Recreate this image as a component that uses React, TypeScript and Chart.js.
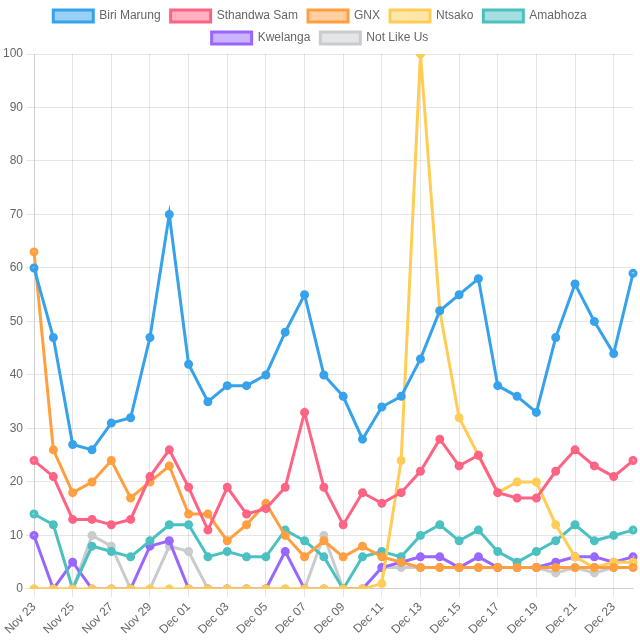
import React, { useEffect, useRef } from "react";
import { Chart, registerables } from "chart.js";

Chart.register(...registerables);

const labels = [
  "Nov 23", "Nov 24", "Nov 25", "Nov 26", "Nov 27", "Nov 28", "Nov 29", "Nov 30",
  "Dec 01", "Dec 02", "Dec 03", "Dec 04", "Dec 05", "Dec 06", "Dec 07", "Dec 08",
  "Dec 09", "Dec 10", "Dec 11", "Dec 12", "Dec 13", "Dec 14", "Dec 15", "Dec 16",
  "Dec 17", "Dec 18", "Dec 19", "Dec 20", "Dec 21", "Dec 22", "Dec 23", "Dec 24",
];

const biriMarung = [60, 47, 27, 26, 31, 32, 47, 70, 42, 35, 38, 38, 40, 48, 55, 40, 36, 28, 34, 36, 43, 52, 55, 58, 38, 36, 33, 47, 57, 50, 44, 59];
const sthandwaSam = [24, 21, 13, 13, 12, 13, 21, 26, 19, 11, 19, 14, 15, 19, 33, 19, 12, 18, 16, 18, 22, 28, 23, 25, 18, 17, 17, 22, 26, 23, 21, 24];
const gnx = [63, 26, 18, 20, 24, 17, 20, 23, 14, 14, 9, 12, 16, 10, 6, 9, 6, 8, 6, 5, 4, 4, 4, 4, 4, 4, 4, 4, 4, 4, 4, 4];
const ntsako = [0, 0, 0, 0, 0, 0, 0, 0, 0, 0, 0, 0, 0, 0, 0, 0, 0, 0, 1, 24, 100, 52, 32, 25, 18, 20, 20, 12, 6, 4, 5, 5];
const amabhoza = [14, 12, 0, 8, 7, 6, 9, 12, 12, 6, 7, 6, 6, 11, 9, 6, 0, 6, 7, 6, 10, 12, 9, 11, 7, 5, 7, 9, 12, 9, 10, 11];
const kwelanga = [10, 0, 5, 0, 0, 0, 8, 9, 0, 0, 0, 0, 0, 7, 0, 0, 0, 0, 4, 5, 6, 6, 4, 6, 4, 4, 4, 5, 6, 6, 5, 6];
const notLikeUs = [0, 0, 0, 10, 8, 0, 0, 8, 7, 0, 0, 0, 0, 0, 0, 10, 0, 0, 4, 4, 4, 4, 4, 4, 4, 4, 4, 3, 4, 3, 4, 4];

const seriesNames = ["Biri Marung", "Sthandwa Sam", "GNX", "Ntsako", "Amabhoza", "Kwelanga", "Not Like Us"];
const seriesData = [biriMarung, sthandwaSam, gnx, ntsako, amabhoza, kwelanga, notLikeUs];
const lineColors = [
  "rgb(54, 162, 235)",
  "rgb(255, 99, 132)",
  "rgb(255, 159, 64)",
  "rgb(255, 205, 86)",
  "rgb(75, 192, 192)",
  "rgb(153, 102, 255)",
  "rgb(201, 203, 207)",
];
const fillColors = [
  "rgba(54, 162, 235, 0.5)",
  "rgba(255, 99, 132, 0.5)",
  "rgba(255, 159, 64, 0.5)",
  "rgba(255, 205, 86, 0.5)",
  "rgba(75, 192, 192, 0.5)",
  "rgba(153, 102, 255, 0.5)",
  "rgba(201, 203, 207, 0.5)",
];

export default function App() {
  const ref = useRef<HTMLCanvasElement | null>(null);
  useEffect(() => {
    if (!ref.current) return;
    Chart.defaults.font.family = "Arial, 'Liberation Sans', sans-serif";
    Chart.defaults.font.size = 12;
    Chart.defaults.color = "#666";
    const chart = new Chart(ref.current, {
      type: "line",
      data: {
        labels,
        datasets: seriesNames.map((name, i) => ({
          label: name,
          data: seriesData[i],
          borderColor: lineColors[i],
          backgroundColor: fillColors[i],
          borderWidth: 3,
          pointRadius: 3,
          tension: 0,
          fill: false,
        })),
      },
      options: {
        animation: false,
        responsive: false,
        maintainAspectRatio: false,
        plugins: {
          legend: { position: "top" },
          tooltip: { enabled: false },
        },
        scales: {
          x: {
            ticks: { maxRotation: 45, minRotation: 45, autoSkip: true },
          },
          y: {
            min: 0,
            max: 100,
            ticks: { stepSize: 10 },
          },
        },
      },
    });
    return () => chart.destroy();
  }, []);
  return (
    <div style={{ position: "fixed", left: 0, top: 0, width: 640, height: 640, background: "#fff" }}>
      <canvas ref={ref} width={640} height={640} style={{ width: 640, height: 640 }} />
    </div>
  );
}
